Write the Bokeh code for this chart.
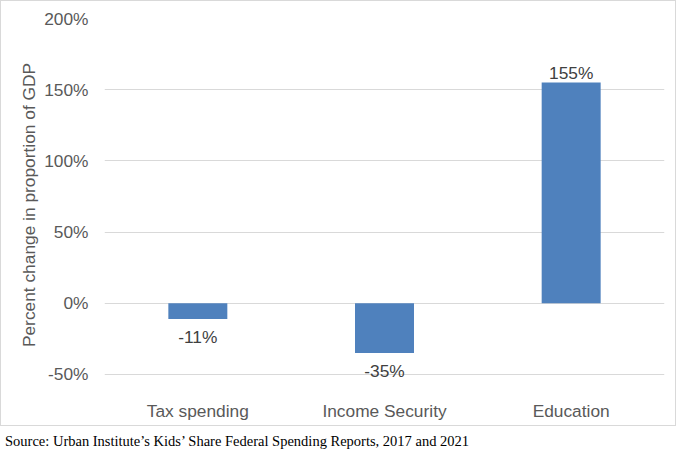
from bokeh.plotting import figure
from bokeh.models import ColumnDataSource, FixedTicker, NumeralTickFormatter, Div
from bokeh.layouts import column
from bokeh.core.properties import value
from bokeh.embed import file_html
from bokeh.resources import INLINE

categories = ["Tax spending", "Income Security", "Education"]
values = [-0.11, -0.35, 1.55]
value_labels = ["-11%", "-35%", "155%"]
y_ticks = [-0.5, 0.0, 0.5, 1.0, 1.5, 2.0]
y_title = "Percent change in proportion of GDP"
source_note = "Source: Urban Institute\u2019s Kids\u2019 Share Federal Spending Reports, 2017 and 2021"

FONT = "Liberation Sans"
FS = "13pt"
GREY = "#595959"

src = ColumnDataSource(dict(
    cat=categories,
    val=values,
    lab=value_labels,
    base=["alphabetic" if v >= 0 else "top" for v in values],
    off=[-10 if v >= 0 else 8 for v in values],
))

p = figure(x_range=categories, y_range=(-0.62, 2.0), width=676, height=426,
           output_backend="svg", toolbar_location=None,
           min_border_left=103, min_border_right=13, min_border_top=17, min_border_bottom=36)
p.styles = {"border": "1px solid #d9d9d9"}

p.vbar(x="cat", top="val", bottom=0, width=0.316, source=src,
       fill_color="#4F81BD", line_color=None)

p.text(x="cat", y="val", text="lab", source=src, text_align="center",
       text_baseline="base", y_offset="off", text_font=value(FONT),
       text_font_size=FS, text_color="#404040")

p.outline_line_color = None
p.xgrid.grid_line_color = None
p.ygrid.grid_line_color = "#d9d9d9"
p.ygrid.grid_line_width = 1

p.yaxis.ticker = FixedTicker(ticks=y_ticks)
p.yaxis.formatter = NumeralTickFormatter(format="0%")
p.yaxis.axis_line_color = None
p.yaxis.major_tick_line_color = None
p.yaxis.minor_tick_line_color = None
p.yaxis.major_tick_out = 0
p.yaxis.major_tick_in = 0
p.yaxis.major_label_standoff = 16
p.yaxis.major_label_text_font = FONT
p.yaxis.major_label_text_font_size = FS
p.yaxis.major_label_text_color = GREY
p.yaxis.axis_label = y_title
p.yaxis.axis_label_text_font = FONT
p.yaxis.axis_label_text_font_size = FS
p.yaxis.axis_label_text_font_style = "normal"
p.yaxis.axis_label_text_color = GREY
p.yaxis.axis_label_standoff = 2

p.xaxis.axis_line_color = None
p.xaxis.major_tick_line_color = None
p.xaxis.minor_tick_line_color = None
p.xaxis.major_tick_out = 0
p.xaxis.major_tick_in = 0
p.xaxis.major_label_standoff = 9
p.xaxis.major_label_text_font = FONT
p.xaxis.major_label_text_font_size = FS
p.xaxis.major_label_text_color = GREY

note = Div(text=source_note, width=676, height=20,
           styles={"font-family": "Liberation Serif", "font-size": "14.5px",
                   "color": "#000000", "margin-top": "5px", "white-space": "nowrap"})

layout = column(p, note, spacing=0)

open("out.html", "w").write(file_html(layout, INLINE))
